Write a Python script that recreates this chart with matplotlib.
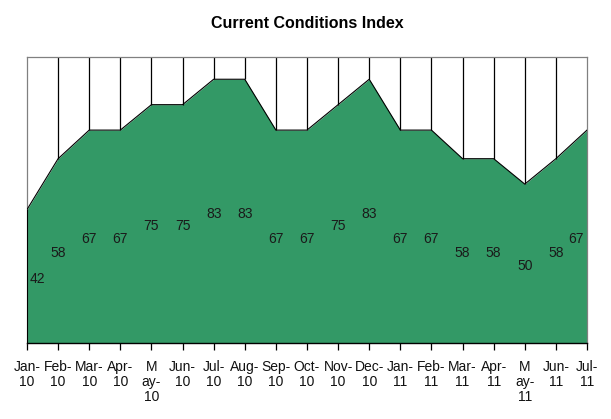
import matplotlib
matplotlib.use("Agg")
import matplotlib.pyplot as plt
import numpy as np

plt.rcParams['font.family'] = ['Liberation Sans', 'DejaVu Sans']

categories = ["Jan-\n10", "Feb-\n10", "Mar-\n10", "Apr-\n10", "M\nay-\n10", "Jun-\n10",
              "Jul-\n10", "Aug-\n10", "Sep-\n10", "Oct-\n10", "Nov-\n10", "Dec-\n10",
              "Jan-\n11", "Feb-\n11", "Mar-\n11", "Apr-\n11", "M\nay-\n11", "Jun-\n11",
              "Jul-\n11"]
values = [42, 58, 67, 67, 75, 75, 83, 83, 67, 67, 75, 83, 67, 67, 58, 58, 50, 58, 67]
title = "Current Conditions Index"
ymax = 90

fig = plt.figure(figsize=(6.11, 4.19), dpi=100)
ax = fig.add_axes([27/611, 1-343/419, 560/611, 286/419])
x = np.arange(len(values))
ax.fill_between(x, 0, values, color='#339966', linewidth=0, zorder=1)
ax.plot(x, values, color='black', linewidth=0.8, zorder=3)
ax.plot([0, 0], [0, values[0]], color='black', linewidth=0.8, zorder=3)
ax.vlines(x[1:-1], np.array(values[1:-1]), ymax, color='black', linewidth=0.9, zorder=2)

ax.set_xlim(0, len(values)-1)
ax.set_ylim(0, ymax)
for s in ['top', 'right', 'left']:
    ax.spines[s].set_color('#808080')
    ax.spines[s].set_linewidth(0.9)
ax.spines['bottom'].set_color('black')
ax.spines['bottom'].set_linewidth(1.0)
ax.set_yticks([])
ax.set_xticks(x)
ax.set_xticklabels(categories, fontsize=10, linespacing=1.12, va='top', color='#111111')
ax.tick_params(axis='x', direction='out', length=5, width=0.9, color='black', pad=7)

for i, v in enumerate(values):
    if i == 0:
        ha, dx = 'left', 0.1
    elif i == len(values)-1:
        ha, dx = 'right', -0.1
    else:
        ha, dx = 'center', 0
    ax.text(i + dx, v/2 - 0.8, str(v), ha=ha, va='center', fontsize=10, color='#1a1a1a', zorder=4)

fig.text(307/611, 1-23/419, title, ha='center', va='center', fontsize=11.5, fontweight='bold')
fig.savefig('out.png', dpi=100)
